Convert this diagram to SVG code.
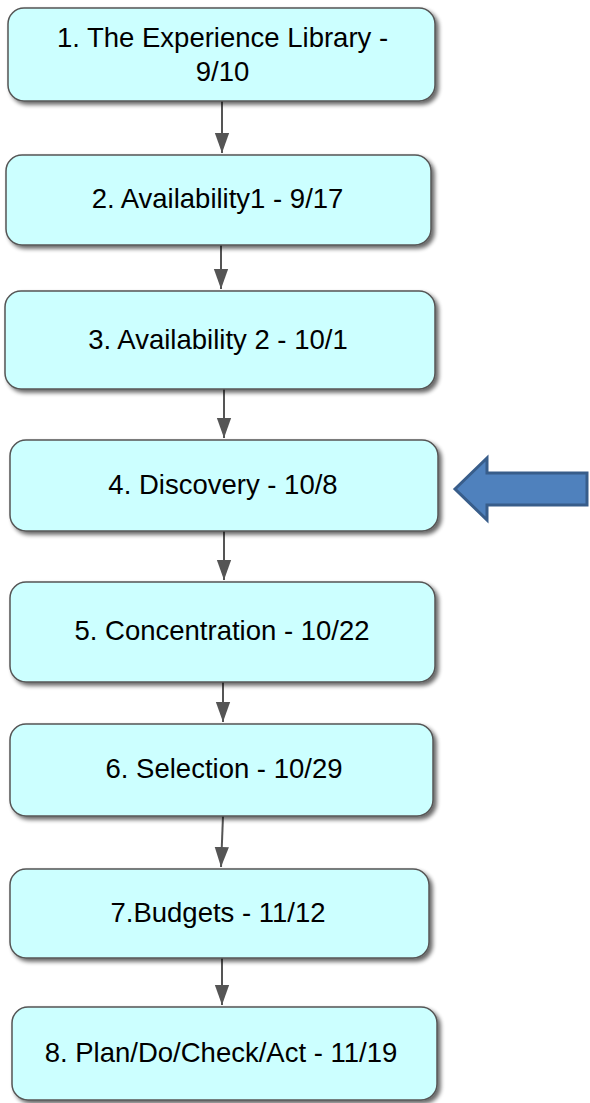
<svg xmlns="http://www.w3.org/2000/svg" width="590" height="1103" viewBox="0 0 590 1103">
<style>
.box{fill:#ccffff;stroke:#555555;stroke-width:1.5}
.lbl{font-family:"Liberation Sans",Arial,sans-serif;font-size:27.5px;fill:#000;text-anchor:middle}
.con{stroke:#555555;stroke-width:2;fill:none;marker-end:url(#ah)}
</style>
<defs>
<filter id="sh" x="-10%" y="-20%" width="130%" height="150%">
<feGaussianBlur in="SourceAlpha" stdDeviation="2"/>
<feOffset dx="3" dy="3" result="b"/>
<feComponentTransfer><feFuncA type="linear" slope="0.6"/></feComponentTransfer>
<feMerge><feMergeNode/><feMergeNode in="SourceGraphic"/></feMerge>
</filter>
<marker id="ah" markerWidth="20" markerHeight="28" refX="28" refY="10" orient="auto" markerUnits="userSpaceOnUse" viewBox="0 0 28 20">
<path d="M0,0 L28,10 L0,20 Z" fill="#555555"/>
</marker>
</defs>
<g id="connectors">
<line class="con" x1="222" y1="101" x2="222" y2="153"/>
<line class="con" x1="221" y1="245" x2="221" y2="289"/>
<line class="con" x1="224" y1="389" x2="224" y2="438"/>
<line class="con" x1="224" y1="531" x2="224" y2="580"/>
<line class="con" x1="223" y1="682" x2="223" y2="722"/>
<line class="con" x1="223" y1="816" x2="221" y2="867"/>
<line class="con" x1="222" y1="958" x2="222" y2="1005"/>
</g>
<g id="n1"><rect class="box" filter="url(#sh)" x="8" y="8" width="427" height="93" rx="16"/><text class="lbl" x="222.5" y="47">1. The Experience Library -</text><text class="lbl" x="222.5" y="81">9/10</text></g>
<g id="n2"><rect class="box" filter="url(#sh)" x="6" y="155" width="425" height="90" rx="16"/><text class="lbl" x="217.5" y="208">2. Availability1 - 9/17</text></g>
<g id="n3"><rect class="box" filter="url(#sh)" x="5" y="291" width="430" height="98" rx="16"/><text class="lbl" x="218" y="349">3. Availability 2 - 10/1</text></g>
<g id="n4"><rect class="box" filter="url(#sh)" x="10" y="440" width="428" height="91" rx="16"/><text class="lbl" x="223" y="494">4. Discovery - 10/8</text></g>
<g id="n5"><rect class="box" filter="url(#sh)" x="10" y="582" width="425" height="100" rx="16"/><text class="lbl" x="222" y="640">5. Concentration - 10/22</text></g>
<g id="n6"><rect class="box" filter="url(#sh)" x="10" y="724" width="423" height="92" rx="16"/><text class="lbl" x="224" y="778">6. Selection - 10/29</text></g>
<g id="n7"><rect class="box" filter="url(#sh)" x="10" y="869" width="419" height="89" rx="16"/><text class="lbl" x="218" y="922">7.Budgets - 11/12</text></g>
<g id="n8"><rect class="box" filter="url(#sh)" x="12" y="1007" width="425" height="93" rx="16"/><text class="lbl" x="221" y="1062">8. Plan/Do/Check/Act - 11/19</text></g>
<g id="pointer"><path d="M455,489 L487,458 L487,473 L587,473 L587,505 L487,505 L487,520 Z" fill="#4f81bd" stroke="#385d8a" stroke-width="3" stroke-linejoin="miter"/></g>
</svg>
